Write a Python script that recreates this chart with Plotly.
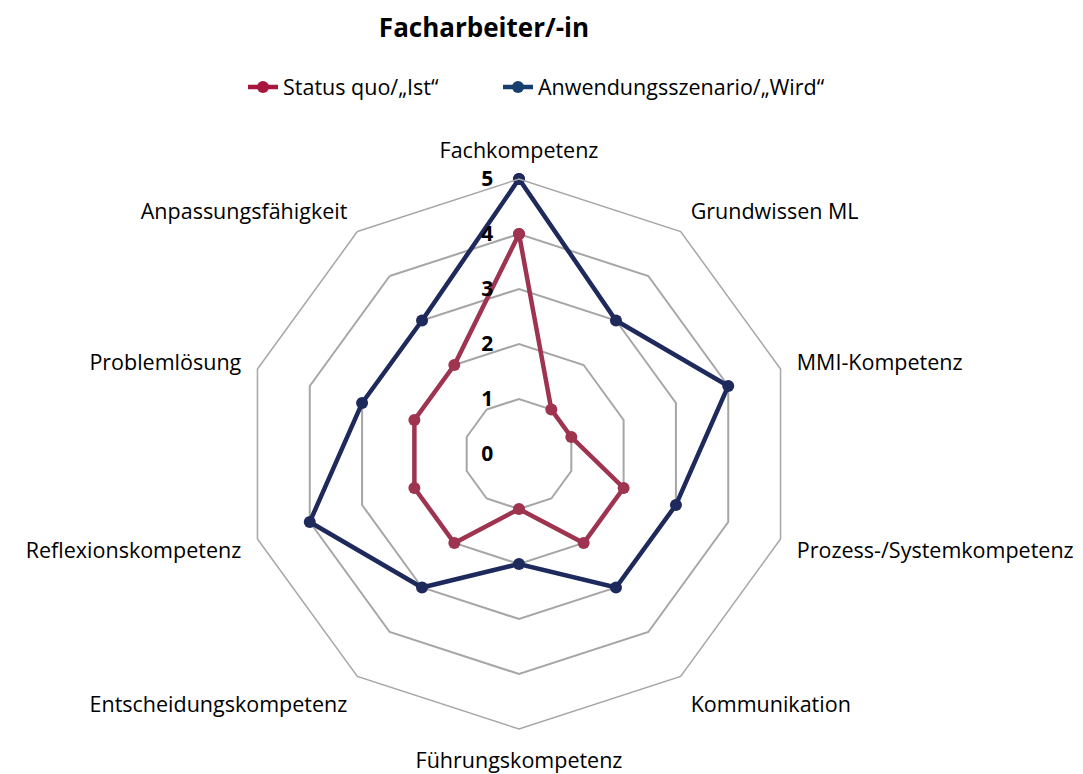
import plotly.graph_objects as go

categories = [
    "Fachkompetenz", "Grundwissen ML", "MMI-Kompetenz", "Prozess-/Systemkompetenz",
    "Kommunikation", "Führungskompetenz", "Entscheidungskompetenz",
    "Reflexionskompetenz", "Problemlösung", "Anpassungsfähigkeit",
]
ist_values = [4, 1, 1, 2, 2, 1, 2, 2, 2, 2]
wird_values = [5, 3, 4, 3, 3, 2, 3, 4, 3, 3]
radial_ticks = [0, 1, 2, 3, 4, 5]

series = [
    ("Status quo/\u201eIst\u201c", ist_values, "#9E344F", "#A6163F", "legend"),
    ("Anwendungsszenario/\u201eWird\u201c", wird_values, "#1F2A5C", "#173F6E", "legend2"),
]

FONT = "Open Sans, Noto Sans, sans-serif"

fig = go.Figure()

# closed polygons for the data, legend entries drawn separately (colors differ slightly)
for name, vals, line_col, legend_col, leg in series:
    fig.add_trace(go.Scatterpolar(
        r=vals + vals[:1], theta=categories + categories[:1],
        mode="lines+markers", name=name, showlegend=False,
        line=dict(color=line_col, width=4.5),
        marker=dict(color=line_col, size=12),
    ))

for name, vals, line_col, legend_col, leg in series:
    fig.add_trace(go.Scatterpolar(
        r=[None], theta=[categories[0]],
        mode="lines+markers", name=name, legend=leg,
        line=dict(color=legend_col, width=4.5),
        marker=dict(color=legend_col, size=12),
    ))

legend_style = dict(orientation="h", xanchor="left", y=1 - 79 / 774,
                    yanchor="middle", font=dict(size=21.5))

fig.update_layout(
    width=1083, height=774,
    margin=dict(l=0, r=0, t=0, b=0),
    paper_bgcolor="white",
    font=dict(family=FONT, size=21.5, color="#000000"),
    title=dict(text="<b>Facharbeiter/-in</b>", x=476 / 1083, xanchor="center",
               y=1 - 20 / 774, yanchor="middle", font=dict(size=26)),
    legend=dict(x=235 / 1083, **legend_style),
    legend2=dict(x=490 / 1083, **legend_style),
    polar=dict(
        domain=dict(x=[236 / 1083, 786 / 1083], y=[1 - 721 / 774, 1 - 171 / 774]),
        gridshape="linear",
        bgcolor="white",
        radialaxis=dict(
            range=[0, 5], tickvals=radial_ticks, angle=90, tickangle=90,
            side="counterclockwise",
            showline=False, ticks="outside", ticklen=18, tickcolor="rgba(0,0,0,0)",
            gridcolor="#A6A6A6", gridwidth=1.5,
            tickfont=dict(size=21, family=FONT, weight="bold"),
        ),
        angularaxis=dict(
            direction="clockwise", rotation=90, showgrid=False,
            linecolor="#A6A6A6", linewidth=1.5,
            ticks="outside", ticklen=12, tickcolor="rgba(0,0,0,0)",
            tickfont=dict(size=21.5),
        ),
    ),
)

fig.write_html("out.html")
